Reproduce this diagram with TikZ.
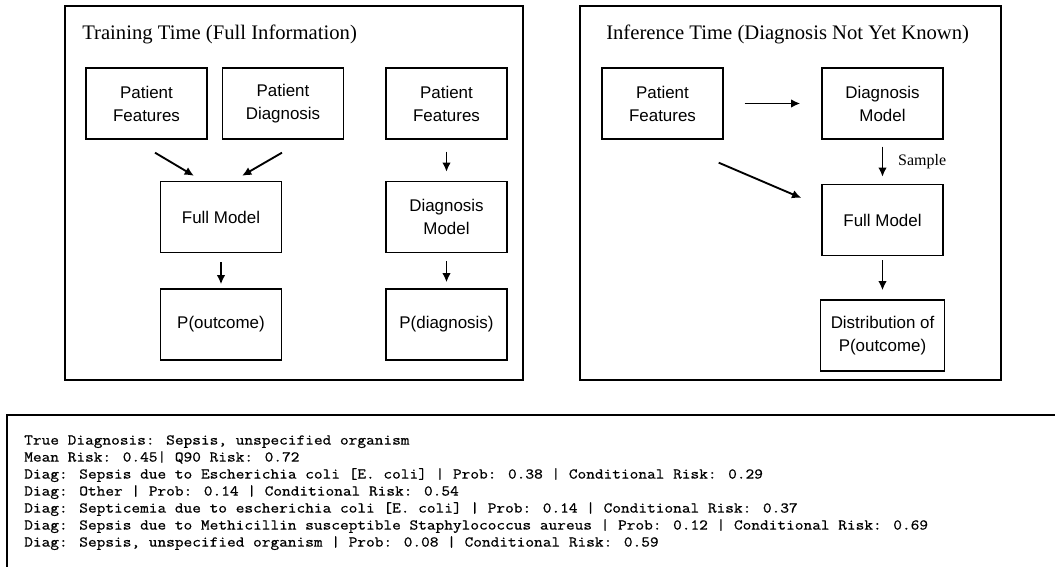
\documentclass[tikz,border=0pt]{standalone}
\usepackage{fontspec}
\setmainfont{Liberation Sans}
\newfontfamily\codefont[FakeStretch=1.13, FakeBold=0.8]{Latin Modern Mono}
\newfontfamily\headfont{Liberation Serif}
\usetikzlibrary{arrows.meta,calc}

\begin{document}
\begin{tikzpicture}[
    x=0.75pt, y=-0.75pt,
    block/.style={rectangle, draw, line width=1pt, minimum width=90.75pt, minimum height=53.25pt, text centered, align=center, inner sep=2pt, font=\fontsize{12.7}{17.25}\selectfont},
    panel/.style={rectangle, draw, line width=1.6pt, minimum height=280.5pt, inner sep=0pt},
    heading/.style={anchor=base west, inner sep=0pt, font=\headfont\fontsize{15.5}{18}\selectfont},
    arrow/.style={-{Latex[length=7pt,width=6.5pt]}, line width=1.4pt}
]
\useasboundingbox (0,0) rectangle (1055,567);

% training time
\node[panel, minimum width=343.5pt] (train) at (294,193) {};
\node[heading] (traint) at (82,40) {Training Time (Full Information)};

\node[block] (pf1) at (146.5,103.5) {Patient\\Features};
\node[block] (pd) at (283,103.5) {Patient\\Diagnosis};
\node[block] (pf2) at (446.5,103.5) {Patient\\Features};
\node[block] (fm) at (221,217) {Full Model};
\node[block] (dm) at (446.5,217) {Diagnosis\\Model};
\node[block] (po) at (221,324.5) {P(outcome)};
\node[block] (pdg) at (446.5,324.5) {P(diagnosis)};

\draw[arrow] ($(pf1.south)+(8.5,13)$) -- ($(fm.north)+(-27,-5)$);
\draw[arrow] ($(pd.south)+(-1,13)$) -- ($(fm.north)+(21,-5)$);
\draw[arrow, shorten <=6.75pt, shorten >=3pt] (fm) -- (po);
\draw[arrow, shorten <=9pt, shorten >=6.75pt] (pf2) -- (dm);
\draw[arrow, shorten <=6pt, shorten >=4.5pt] (dm) -- (pdg);

% inference time
\node[panel, minimum width=315.75pt] (infer) at (790.5,193) {};
\node[heading] (infert) at (606,40) {Inference Time (Diagnosis Not Yet Known)};

\node[block] (rpf) at (662.5,103.5) {Patient\\Features};
\node[block] (rdm) at (882.5,103.5) {Diagnosis\\Model};
\node[block] (rfm) at (882.5,220) {Full Model};
\node[block, minimum width=93pt] (rdist) at (882.5,335.5) {Distribution of\\P(outcome)};

\draw[arrow, shorten <=15.75pt, shorten >=15.75pt] (rpf) -- (rdm);
\draw[arrow, shorten <=5.25pt, shorten >=5.25pt] (rdm) -- node[right, inner sep=0pt, xshift=11pt, font=\headfont\fontsize{12}{14}\selectfont] (smp) {Sample} (rfm);
\draw[arrow] ($(rpf.south east)+(-5,23)$) -- ($(rfm.west)+(-20,-22)$);
\draw[arrow, shorten <=3pt, shorten >=6.75pt] (rfm) -- (rdist);

% example output
\draw[line width=1.6pt] (1055,415) -| (7,567);
\node[anchor=north west, align=left, inner sep=0pt, font=\codefont\fontsize{11.2}{12.75}\selectfont] (details) at (24,435) {%
True Diagnosis: Sepsis, unspecified organism\\
Mean Risk: 0.45| Q90 Risk: 0.72\\
Diag: Sepsis due to Escherichia coli [E. coli] | Prob: 0.38 | Conditional Risk: 0.29\\
Diag: Other | Prob: 0.14 | Conditional Risk: 0.54\\
Diag: Septicemia due to escherichia coli [E. coli] | Prob: 0.14 | Conditional Risk: 0.37\\
Diag: Sepsis due to Methicillin susceptible Staphylococcus aureus | Prob: 0.12 | Conditional Risk: 0.69\\
Diag: Sepsis, unspecified organism | Prob: 0.08 | Conditional Risk: 0.59};

\end{tikzpicture}
\end{document}
